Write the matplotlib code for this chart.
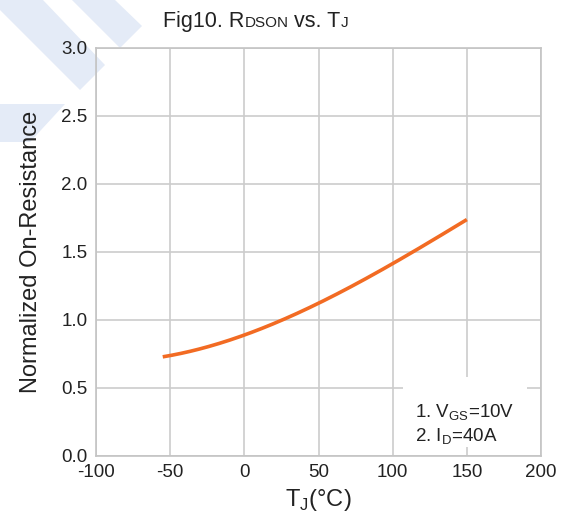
import numpy as np
import matplotlib
matplotlib.use("Agg")
from matplotlib import pyplot as plt
from matplotlib.patches import Polygon, Rectangle

plt.rcParams['font.family'] = ['Liberation Sans', 'DejaVu Sans']

# data
tj = [-55, -25, 0, 25, 50, 75, 100, 125, 150]
rdson = [0.73, 0.80, 0.89, 1.00, 1.12, 1.265, 1.417, 1.57, 1.74]
xticks = [-100, -50, 0, 50, 100, 150, 200]
yticks = [0.0, 0.5, 1.0, 1.5, 2.0, 2.5, 3.0]
notes = ["1. V$_{\\mathregular{GS}}$=10V", "2. I$_{\\mathregular{D}}$=40A"]
title_parts = [("Fig10. R", 15.5), ("DSON", 11), (" vs. T", 15.5), ("J", 11)]

W, H = 574, 518
fig = plt.figure(figsize=(W / 100, H / 100), dpi=100)

# faint watermark stripes in the top-left corner (pixel outlines)
stripe = (0.895, 0.92, 0.97)
shapes = [
    [(0, 0), (43, 0), (105, 65), (80, 90), (0, 10)],
    [(72, 0), (115, 0), (142, 26), (120, 48)],
    [(0, 104), (65, 104), (30, 142), (0, 142)],
]
for pts in shapes:
    fig.patches.append(Polygon([(px / W, 1 - py / H) for px, py in pts], closed=True,
                               transform=fig.transFigure, color=stripe, lw=0, zorder=-1))

ax = fig.add_axes([96 / W, 1 - 456 / H, 445 / W, 408 / H])
ax.patch.set_alpha(0)

# smooth the read points for a clean curve
tt = np.linspace(tj[0], tj[-1], 200)
coef = np.polyfit(tj, rdson, 3)
ax.plot(tt, np.polyval(coef, tt), color='#F26B23', lw=2.6, solid_capstyle='butt', zorder=3)

ax.set_xlim(-100, 200)
ax.set_ylim(0, 3)
ax.set_xticks(xticks)
ax.set_yticks(yticks)
ax.set_xticklabels([str(v) for v in xticks], fontsize=13.5, color='#222222')
ax.set_yticklabels(["%.1f" % v for v in yticks], fontsize=13.5, color='#222222')
ax.tick_params(axis='x', length=0, pad=6)
ax.tick_params(axis='y', length=0, pad=6)
ax.grid(True, color='#cccccc', lw=1.2)
for s in ax.spines.values():
    s.set_color('#c4c4c4')
    s.set_linewidth(1.2)

ax.set_xlabel("T$_{\\mathregular{J}}$(°C)", fontsize=17, labelpad=4, color='#222222')
ax.set_ylabel("Normalized On-Resistance", fontsize=17, labelpad=14, color='#222222')

# white note box over the grid
ax.add_patch(Rectangle((107, 0.066), 83.6, 0.514, facecolor='white', edgecolor='none', zorder=2))
ax.text(115, (456 - 418) / 136, notes[0], fontsize=13.5, zorder=4, va='baseline', color='#222222')
ax.text(115, (456 - 442) / 136, notes[1], fontsize=13.5, zorder=4, va='baseline', color='#222222')

# title pieces on one baseline, small capitals for the subscripts
renderer = fig.canvas.get_renderer()
x = 163 / W
for txt, size in title_parts:
    t = fig.text(x, 1 - 27 / H, txt, fontsize=size, va='baseline', color='#222222')
    x = t.get_window_extent(renderer).x1 / W

fig.savefig("out.png", dpi=100)
